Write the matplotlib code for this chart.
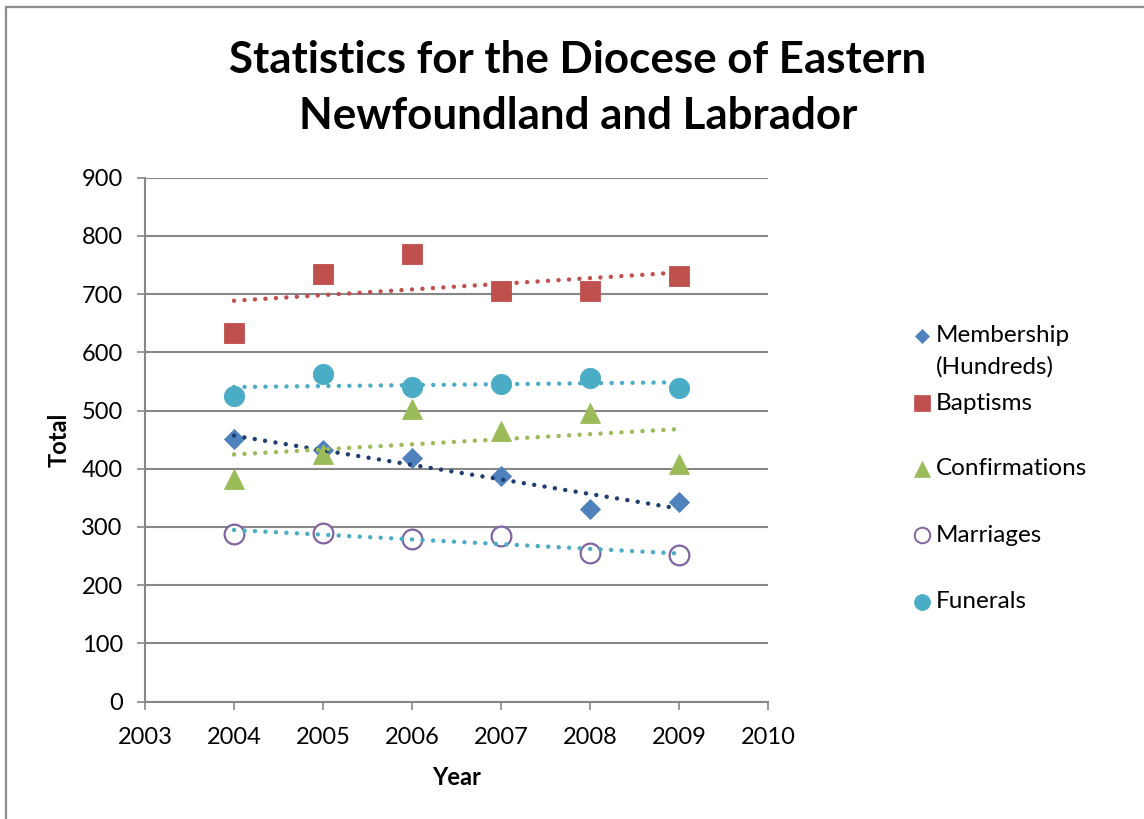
import numpy as np
import matplotlib
matplotlib.use("Agg")
import matplotlib.pyplot as plt
from matplotlib.lines import Line2D
from matplotlib.patches import Rectangle

plt.rcParams['font.family'] = ['Lato', 'DejaVu Sans']

years = [2004, 2005, 2006, 2007, 2008, 2009]
membership = [451, 433, 419, 388, 331, 343]
baptisms = [633, 734, 769, 706, 705, 731]
confirmations = [382, 425, 502, 465, 496, 408]
marriages = [288, 289, 280, 284, 255, 251]
funerals = [525, 562, 540, 545, 556, 539]

series_names = ["Membership\n(Hundreds)", "Baptisms", "Confirmations", "Marriages", "Funerals"]
x_ticks = [2003, 2004, 2005, 2006, 2007, 2008, 2009, 2010]
y_ticks = [0, 100, 200, 300, 400, 500, 600, 700, 800, 900]

W, H = 1144, 819
fig = plt.figure(figsize=(W / 100, H / 100), dpi=100)
ax = fig.add_axes([145 / W, 1 - 701.5 / H, (768 - 145) / W, (701.5 - 177.8) / H])

# chart frame
fig.add_artist(Rectangle((6 / W, -0.1), 1.2, 1 - 7 / H + 0.1, transform=fig.transFigure,
                         fill=False, edgecolor="#8c8c8c", linewidth=1.6))

styles = [
    dict(data=membership, marker="D", ms=10.2, color="#4F81BD", mfc="#4F81BD", trend="#1F3F73"),
    dict(data=baptisms, marker="s", ms=14.4, color="#C0504D", mfc="#C0504D", trend="#C0504D"),
    dict(data=confirmations, marker="^", ms=14.6, color="#9BBB59", mfc="#9BBB59", trend="#9BBB59"),
    dict(data=marriages, marker="o", ms=14.2, color="#8064A2", mfc="white", trend="#4BACC6"),
    dict(data=funerals, marker="o", ms=14.6, color="#4BACC6", mfc="#4BACC6", trend="#4BACC6"),
]

xs = np.array(years, dtype=float)
for st in styles:
    ys = np.array(st["data"], dtype=float)
    ax.plot(xs, ys, linestyle="none", marker=st["marker"], markersize=st["ms"],
            markerfacecolor=st["mfc"], markeredgecolor=st["color"],
            markeredgewidth=1.6 if st["mfc"] == "white" else 0.6, zorder=3, clip_on=False)
    # linear trendline over the data range
    slope, intercept = np.polyfit(xs, ys, 1)
    ax.plot([xs[0], xs[-1]], [slope * xs[0] + intercept, slope * xs[-1] + intercept],
            color=st["trend"], linewidth=3.2, linestyle=(0, (0.01, 2.35)),
            dash_capstyle="round", solid_capstyle="round", zorder=4)

ax.set_xlim(2003, 2010)
ax.set_ylim(0, 900)
ax.set_xticks(x_ticks)
ax.set_yticks(y_ticks)
ax.set_xticklabels([str(v) for v in x_ticks])
ax.set_yticklabels([str(v) for v in y_ticks])

grid_c = "#878787"
ax.grid(axis="y", color=grid_c, linewidth=1.5, zorder=1)
ax.set_axisbelow(True)
for side in ["top", "right"]:
    ax.spines[side].set_visible(False)
for side in ["left", "bottom"]:
    ax.spines[side].set_color(grid_c)
    ax.spines[side].set_linewidth(1.5)
ax.tick_params(axis="both", direction="out", length=6, width=1.2, color=grid_c,
               labelsize=17, labelcolor="black")
ax.tick_params(axis="y", pad=10)
ax.tick_params(axis="x", pad=12)

ax.set_xlabel("Year", fontsize=17, fontweight="bold", labelpad=13)
ax.set_ylabel("Total", fontsize=17, fontweight="bold", labelpad=8)

fig.text(578 / W, 1 - 60 / H, "Statistics for the Diocese of Eastern", ha="center", va="center",
         fontsize=31.6, fontweight="bold")
fig.text(578 / W, 1 - 116 / H, "Newfoundland and Labrador", ha="center", va="center",
         fontsize=31.6, fontweight="bold")

# legend
leg_y = [336, 403, 469, 535, 602]
leg_ms = [7.4, 11.5, 12.0, 11.2, 11.5]
for st, name, yy, ms in zip(styles, series_names, leg_y, leg_ms):
    fig.add_artist(Line2D([922 / W], [1 - yy / H], transform=fig.transFigure, linestyle="none",
                          marker=st["marker"], markersize=ms, markerfacecolor=st["mfc"],
                          markeredgecolor=st["color"],
                          markeredgewidth=1.4 if st["mfc"] == "white" else 0.5))
    if "\n" in name:
        fig.text(936 / W, 1 - (yy - 11) / H, name, ha="left", va="top", fontsize=17.5,
                 linespacing=1.58)
    else:
        fig.text(936 / W, 1 - yy / H, name, ha="left", va="center", fontsize=17.5)

fig.savefig("out.png", dpi=100)
